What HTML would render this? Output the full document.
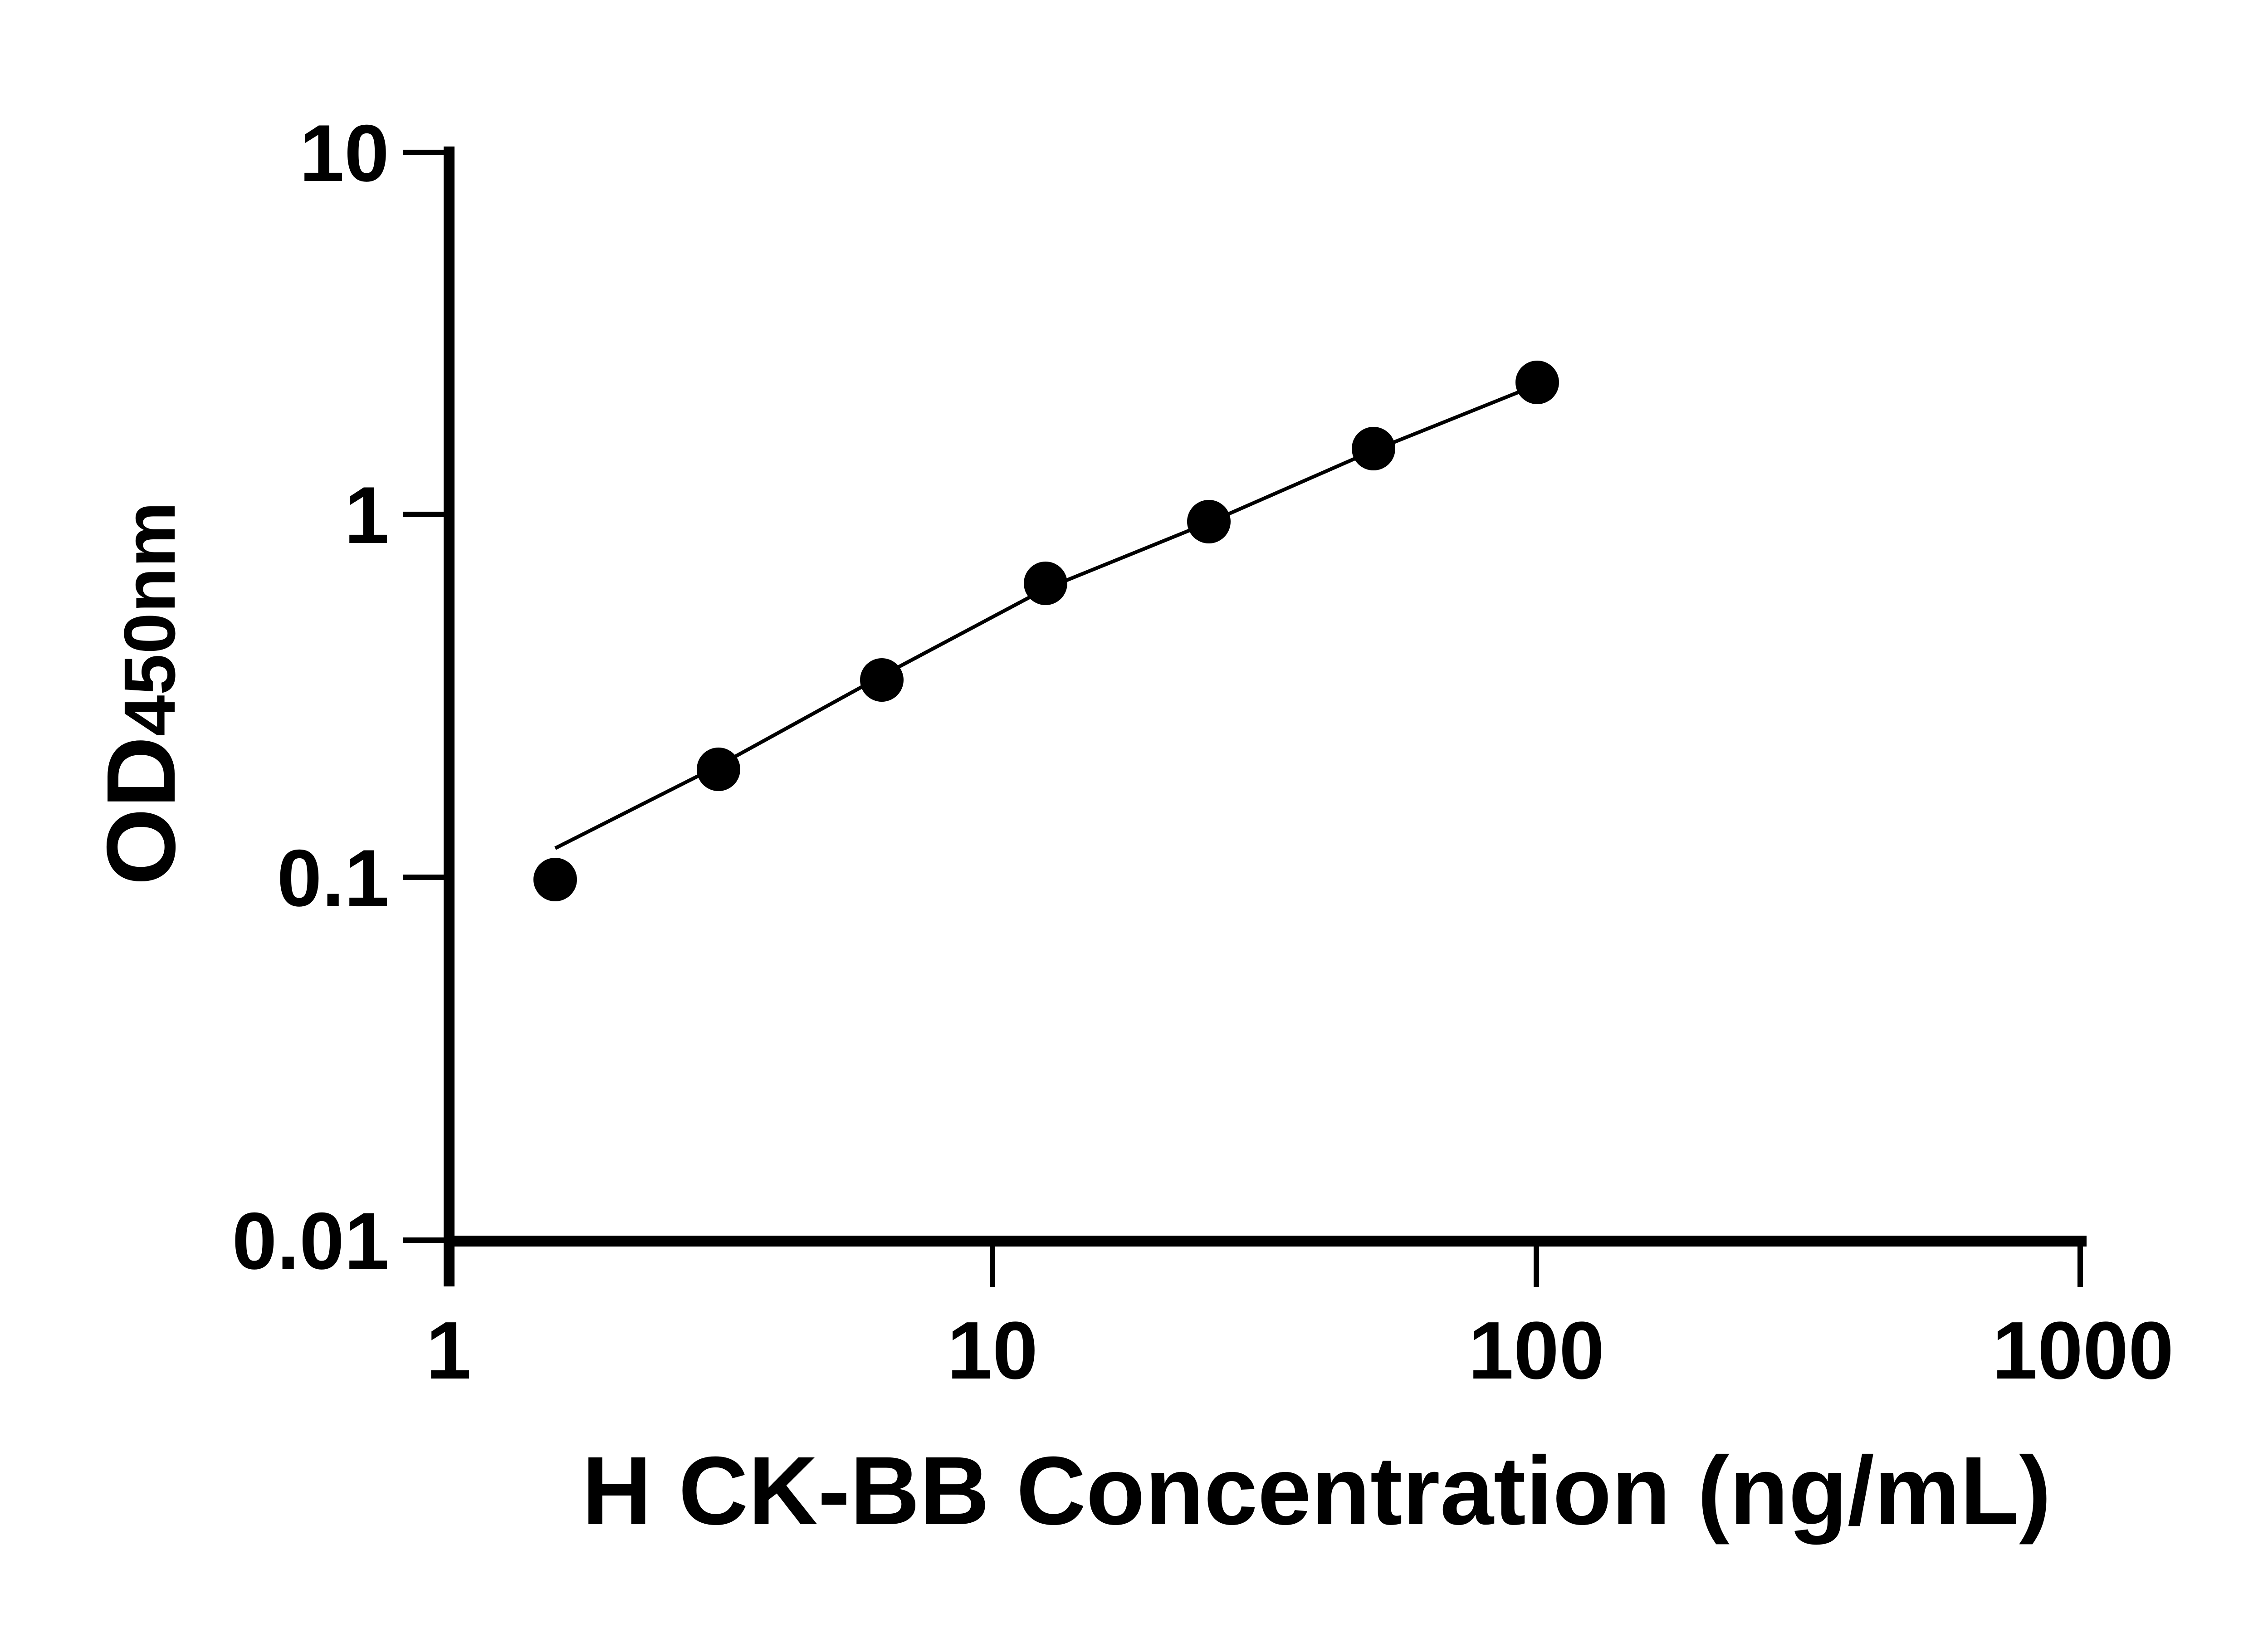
<!DOCTYPE html>
<html><head><meta charset="utf-8"><style>html,body{margin:0;padding:0;background:#fff}svg{display:block}</style></head>
<body>
<svg width="5142" height="3600" viewBox="0 0 5142 3600" xmlns="http://www.w3.org/2000/svg" font-family="Liberation Sans, Arial, sans-serif" font-weight="bold">
<rect width="5142" height="3600" fill="#fff"/>
<!-- y axis -->
<rect x="978" y="323" width="24" height="2513" fill="#000"/>
<!-- x axis -->
<rect x="978" y="2724" width="3622" height="24" fill="#000"/>
<!-- y ticks -->
<g fill="#000">
<rect x="888" y="330" width="100" height="12"/>
<rect x="888" y="1128" width="100" height="12"/>
<rect x="888" y="1928" width="100" height="12"/>
<rect x="888" y="2728" width="100" height="12"/>
<!-- x ticks -->
<rect x="2182" y="2736" width="12" height="101"/>
<rect x="3381" y="2736" width="12" height="101"/>
<rect x="4580" y="2736" width="12" height="101"/>
</g>
<!-- y labels -->
<g font-size="178" text-anchor="end" fill="#000">
<text x="858" y="399">10</text>
<text x="858" y="1197">1</text>
<text x="858" y="1997">0.1</text>
<text x="858" y="2797">0.01</text>
</g>
<!-- x labels -->
<g font-size="180" text-anchor="middle" fill="#000">
<text x="989" y="3039">1</text>
<text x="2188" y="3039">10</text>
<text x="3387" y="3039">100</text>
<text x="4592" y="3039">1000</text>
</g>
<!-- x title -->
<text x="1283" y="3360" font-size="214" textLength="3239" lengthAdjust="spacingAndGlyphs" fill="#000">H CK-BB Concentration (ng/mL)</text>
<!-- y title -->
<text transform="translate(385,1952) rotate(-90)" fill="#000" textLength="846" lengthAdjust="spacingAndGlyphs"><tspan font-size="215">OD</tspan><tspan font-size="160">450nm</tspan></text>
<!-- curve -->
<polyline points="1224,1870 1584,1688 1944,1490 2305,1298 2665,1152 3028,993 3389,848" fill="none" stroke="#000" stroke-width="8"/>
<!-- points -->
<g fill="#000">
<circle cx="1224" cy="1939" r="48"/>
<circle cx="1584" cy="1696" r="48"/>
<circle cx="1944" cy="1499" r="48"/>
<circle cx="2305" cy="1286" r="48"/>
<circle cx="2665" cy="1150" r="48"/>
<circle cx="3028" cy="989" r="48"/>
<circle cx="3389" cy="843" r="48"/>
</g>
</svg>
</body></html>
